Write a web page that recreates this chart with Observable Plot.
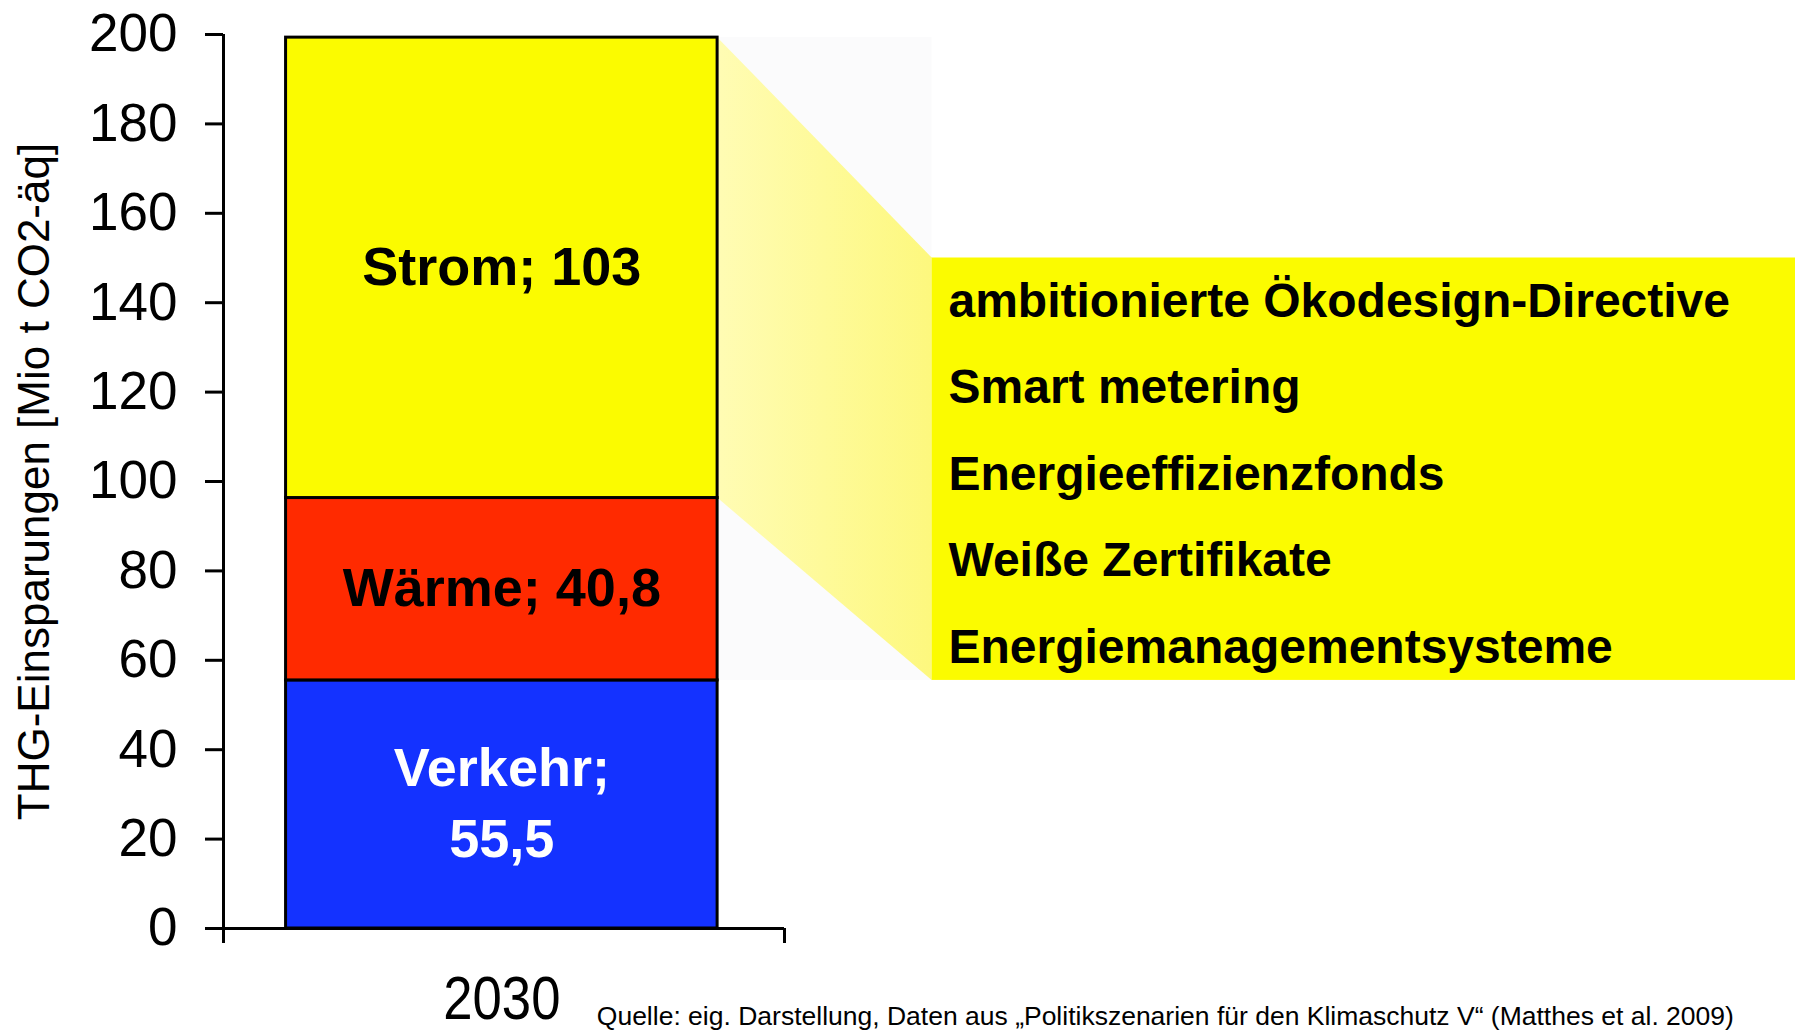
<!DOCTYPE html>
<html>
<head>
<meta charset="utf-8">
<script src="https://cdn.jsdelivr.net/npm/d3@7"></script>
<script src="https://cdn.jsdelivr.net/npm/@observablehq/plot@0.6"></script>
<style>
  html, body { margin: 0; padding: 0; background: #ffffff; overflow: hidden; }
  #chart svg { display: block; }
</style>
</head>
<body>
<div id="chart"></div>
<script>
// ---- data ----
const sectors = ["Verkehr", "Wärme", "Strom"];
const savings = [55.5, 40.8, 103];
const sectorLabels = ["Verkehr;\n55,5", "Wärme; 40,8", "Strom; 103"];
const sectorColors = ["#1432ff", "#ff2a00", "#fbfb00"];
const labelColors = ["#ffffff", "#000000", "#000000"];
const year = "2030";
const yTicks = [0, 20, 40, 60, 80, 100, 120, 140, 160, 180, 200];
const yLabel = "THG-Einsparungen [Mio t CO2-äq]";
const measures = [
  "ambitionierte Ökodesign-Directive",
  "Smart metering",
  "Energieeffizienzfonds",
  "Weiße Zertifikate",
  "Energiemanagementsysteme"
];
const source = "Quelle: eig. Darstellung, Daten aus „Politikszenarien für den Klimaschutz V“ (Matthes et al. 2009)";

// ---- stacking ----
let acc = 0;
const stack = sectors.map((s, i) => {
  const y1 = acc; acc += savings[i];
  return {sector: s, y1, y2: acc, label: sectorLabels[i], fill: sectorColors[i], color: labelColors[i]};
});
const strom = stack[2];
const box = {x1: 1.497, x2: 3.6, y1: stack[0].y2, y2: 150};
const trap = [
  {x: 1, lo: strom.y1, hi: strom.y2},
  {x: box.x1, lo: box.y1, hi: box.y2}
];
const axisMin = -0.145, axisMax = 1.155;

const font = "'Liberation Sans', Arial, Helvetica, sans-serif";

const defs = () => {
  const d = d3.create("svg:defs");
  const g = d.append("linearGradient").attr("id", "fade")
    .attr("x1", "0").attr("x2", "1").attr("y1", "0").attr("y2", "0");
  g.append("stop").attr("offset", "0").attr("stop-color", "#fffcb4");
  g.append("stop").attr("offset", "1").attr("stop-color", "#fdf87e");
  return d.node();
};

const chart = Plot.plot({
  width: 1795,
  height: 1032,
  marginLeft: 223,
  marginRight: 1011,
  marginTop: 34,
  marginBottom: 104,
  style: {fontFamily: font, color: "#000", background: "#ffffff", overflow: "hidden"},
  x: {domain: [axisMin, axisMax]},
  y: {domain: [0, 200]},
  color: {type: "identity"},
  marks: [
    defs,
    // faint backdrop and connector
    Plot.rect([box], {x1: 1, x2: "x1", y1: "y1", y2: strom.y2, fill: "#fbfbfc"}),
    Plot.areaY(trap, {x: "x", y1: "lo", y2: "hi", fill: "url(#fade)"}),
    // annotation box
    Plot.rect([box], {x1: "x1", x2: "x2", y1: "y1", y2: "y2", fill: "#fbfb00"}),
    Plot.text([measures.join("\n")], {
      x: 1.535, y: (box.y1 + box.y2) / 2, dy: -7, text: d => d,
      textAnchor: "start", lineAnchor: "middle", lineHeight: 1.8,
      fontSize: 48, fontWeight: "bold", fill: "#000"
    }),
    // stacked bar
    Plot.rect(stack, {x1: 0, x2: 1, y1: "y1", y2: "y2", fill: "fill", stroke: "#000", strokeWidth: 3}),
    Plot.text(stack, {
      x: 0.5, y: d => (d.y1 + d.y2) / 2, dy: -6, text: "label", fill: "color",
      fontSize: 54, fontWeight: "bold", lineHeight: 1.33, lineAnchor: "middle"
    }),
    // axes
    Plot.ruleX([axisMin], {y1: 0, y2: 200, strokeWidth: 3}),
    Plot.ruleY([0], {x1: axisMin, x2: axisMax, strokeWidth: 3}),
    Plot.axisY({ticks: yTicks, tickSize: 18, tickPadding: 28, fontSize: 53, strokeWidth: 3, label: null, color: "#000"}),
    Plot.axisX({ticks: [axisMin, axisMax], tickSize: 15, strokeWidth: 3, tickFormat: () => "", label: null, color: "#000"}),
    Plot.axisX({ticks: [0.5], tickSize: 0, tickPadding: 46, tickFormat: () => year,
      fontSize: 62, label: null, color: "#000"}),
    Plot.text([yLabel], {
      frameAnchor: "left", y: 100, dx: -189, rotate: -90, text: d => d,
      textAnchor: "middle", lineAnchor: "middle", fontSize: 44, fill: "#000"
    }),
    Plot.text([source], {
      x: 0.72, frameAnchor: "bottom", dy: 88, text: d => d,
      textAnchor: "start", lineAnchor: "middle", fontSize: 26.5, fill: "#000"
    })
  ]
});

// condense the category label horizontally, as in the reference
d3.select(chart).selectAll("text")
  .filter(function () { return this.textContent === year; })
  .each(function () {
    const t = this.getAttribute("transform") || "";
    this.setAttribute("transform", t + " scale(0.85,1)");
  });

document.getElementById("chart").appendChild(chart);
</script>
</body>
</html>
